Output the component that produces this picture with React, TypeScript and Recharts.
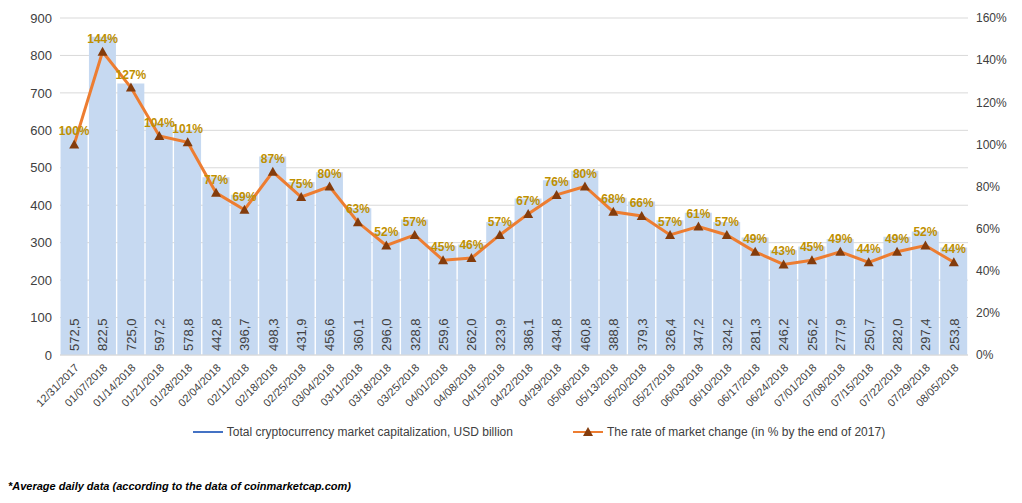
import { ComposedChart, Bar, Line, XAxis, YAxis, CartesianGrid, LabelList, Legend } from 'recharts';

const dates = ['12/31/2017','01/07/2018','01/14/2018','01/21/2018','01/28/2018','02/04/2018','02/11/2018','02/18/2018','02/25/2018','03/04/2018','03/11/2018','03/18/2018','03/25/2018','04/01/2018','04/08/2018','04/15/2018','04/22/2018','04/29/2018','05/06/2018','05/13/2018','05/20/2018','05/27/2018','06/03/2018','06/10/2018','06/17/2018','06/24/2018','07/01/2018','07/08/2018','07/15/2018','07/22/2018','07/29/2018','08/05/2018'];
const capLabels = ['572,5','822,5','725,0','597,2','578,8','442,8','396,7','498,3','431,9','456,6','360,1','296,0','328,8','259,6','262,0','323,9','386,1','434,8','460,8','388,8','379,3','326,4','347,2','324,2','281,3','246,2','256,2','277,9','250,7','282,0','297,4','253,8'];
const capHeights = [605,850,725,620,600,475,428,530,462,488,392,328,362,292,295,355,418,467,492,420,410,360,380,355,314,280,290,310,283,316,330,287];
const change = [100,144,127,104,101,77,69,87,75,80,63,52,57,45,46,57,67,76,80,68,66,57,61,57,49,43,45,49,44,49,52,44];

const data = dates.map((d, i) => ({ date: d, cap: capHeights[i], capLabel: capLabels[i], change: change[i] }));

const Tri = (p: any) => {
  const { cx, cy } = p;
  if (cx == null) return null;
  return <path d={`M${cx},${cy - 5}L${cx + 5},${cy + 4}L${cx - 5},${cy + 4}Z`} fill="#843c0c" />;
};

const VLabel = (p: any) => {
  const { x, y, width, height, value } = p;
  const cx = x + width / 2;
  const by = y + height - 4;
  return <text x={cx} y={by} transform={`rotate(-90 ${cx} ${by})`} dy={5} fontSize={13} fill="#404040" textAnchor="start">{value}</text>;
};

const MyLegend = () => (
  <div style={{ display: 'flex', justifyContent: 'center', gap: 60, fontSize: 12, color: '#404040', paddingLeft: 60 }}>
    <span style={{ display: 'flex', alignItems: 'center' }}>
      <svg width={30} height={10}><line x1={0} y1={5} x2={30} y2={5} stroke="#4472c4" strokeWidth={2} /></svg>
      <span style={{ marginLeft: 4 }}>Total cryptocurrency market capitalization, USD billion</span>
    </span>
    <span style={{ display: 'flex', alignItems: 'center' }}>
      <svg width={30} height={12}><line x1={0} y1={6} x2={30} y2={6} stroke="#ed7d31" strokeWidth={2} /><path d="M15,1L20,10L10,10Z" fill="#843c0c" /></svg>
      <span style={{ marginLeft: 4 }}>The rate of market change (in % by the end of 2017)</span>
    </span>
  </div>
);

export default function App() {
  return (
    <div style={{ position: 'relative', width: 1022, height: 503, margin: -8, background: '#fff', fontFamily: 'Arial, "Liberation Sans", sans-serif' }}>
      <ComposedChart width={1022} height={455} data={data} margin={{ top: 18, right: 4, left: 0, bottom: 0 }} barCategoryGap="2%">
        <CartesianGrid vertical={false} stroke="#d9d9d9" yAxisId="l" />
        <XAxis dataKey="date" interval={0} angle={-45} textAnchor="end" height={70} tick={{ fontSize: 11, fill: '#404040' }} tickLine={false} axisLine={{ stroke: '#d9d9d9' }} />
        <YAxis yAxisId="l" domain={[0, 900]} ticks={[0,100,200,300,400,500,600,700,800,900]} width={60} tick={{ fontSize: 13, fill: '#404040' }} axisLine={false} tickLine={false} />
        <YAxis yAxisId="r" orientation="right" domain={[0, 160]} ticks={[0,20,40,60,80,100,120,140,160]} tickFormatter={(v) => `${v}%`} width={50} tick={{ fontSize: 12, fill: '#404040' }} axisLine={false} tickLine={false} />
        <Bar yAxisId="l" dataKey="cap" fill="#c6d9f1" isAnimationActive={false}>
          <LabelList dataKey="capLabel" content={VLabel} />
        </Bar>
        <Line yAxisId="r" dataKey="change" stroke="#ed7d31" strokeWidth={3} dot={<Tri />} isAnimationActive={false}>
          <LabelList dataKey="change" position="top" offset={9} formatter={(v: any) => `${v}%`} style={{ fontSize: 12, fontWeight: 'bold', fill: '#bf9000' }} />
        </Line>
        <Legend verticalAlign="bottom" height={30} content={MyLegend} />
      </ComposedChart>
      <div style={{ position: 'absolute', left: 8, top: 480, fontSize: 11, fontWeight: 'bold', fontStyle: 'italic', color: '#000' }}>
        *Average daily data (according to the data of coinmarketcap.com)
      </div>
    </div>
  );
}
